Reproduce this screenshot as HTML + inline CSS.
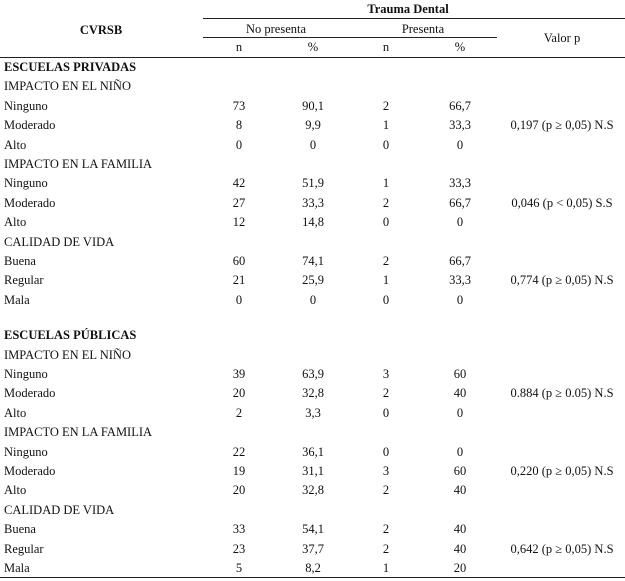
<!DOCTYPE html>
<html><head><meta charset="utf-8">
<style>
html,body{margin:0;padding:0;background:#fff;}
body{width:625px;height:581px;position:relative;overflow:hidden;font-family:"Liberation Serif",serif;font-size:12.5px;color:#111;}
.t{position:absolute;white-space:nowrap;line-height:14px;}
.c{transform:translateX(-50%);}
.b{font-weight:bold;}
.ln{position:absolute;height:1px;background:#222;}
</style></head><body>
<div class="t c b" style="left:408px;top:2px">Trauma Dental</div>
<div class="ln" style="left:203px;width:422px;top:18px"></div>
<div class="t c b" style="left:101px;top:23px">CVRSB</div>
<div class="t c" style="left:276px;top:22px">No presenta</div>
<div class="t c" style="left:423px;top:22px">Presenta</div>
<div class="ln" style="left:203px;width:294px;top:37px"></div>
<div class="t c" style="left:562px;top:31px">Valor p</div>
<div class="t c" style="left:239px;top:40px">n</div>
<div class="t c" style="left:313px;top:40px">%</div>
<div class="t c" style="left:386px;top:40px">n</div>
<div class="t c" style="left:460px;top:40px">%</div>
<div class="ln" style="left:0;width:625px;top:57px"></div>
<div class="ln" style="left:0;width:625px;top:577px"></div>
<script>
const rows = [
 ["b","ESCUELAS PRIVADAS"],["s","IMPACTO EN EL NIÑO"],
 ["d","Ninguno","73","90,1","2","66,7",""],
 ["d","Moderado","8","9,9","1","33,3","0,197 (p ≥ 0,05) N.S"],
 ["d","Alto","0","0","0","0",""],
 ["s","IMPACTO EN LA FAMILIA"],
 ["d","Ninguno","42","51,9","1","33,3",""],
 ["d","Moderado","27","33,3","2","66,7","0,046 (p < 0,05) S.S"],
 ["d","Alto","12","14,8","0","0",""],
 ["s","CALIDAD DE VIDA"],
 ["d","Buena","60","74,1","2","66,7",""],
 ["d","Regular","21","25,9","1","33,3","0,774 (p ≥ 0,05) N.S"],
 ["d","Mala","0","0","0","0",""],
 ["gap"],
 ["b","ESCUELAS PÚBLICAS"],["s","IMPACTO EN EL NIÑO"],
 ["d","Ninguno","39","63,9","3","60",""],
 ["d","Moderado","20","32,8","2","40","0.884 (p ≥ 0.05) N.S"],
 ["d","Alto","2","3,3","0","0",""],
 ["s","IMPACTO EN LA FAMILIA"],
 ["d","Ninguno","22","36,1","0","0",""],
 ["d","Moderado","19","31,1","3","60","0,220 (p ≥ 0,05) N.S"],
 ["d","Alto","20","32,8","2","40",""],
 ["s","CALIDAD DE VIDA"],
 ["d","Buena","33","54,1","2","40",""],
 ["d","Regular","23","37,7","2","40","0,642 (p ≥ 0,05) N.S"],
 ["d","Mala","5","8,2","1","20",""]
];
const colX = [239,313,386,460,562];
let y = 60;
function add(txt, x, top, cls, name){
  const d = document.createElement('div');
  d.className = 't ' + cls;
  d.style.left = x + 'px'; d.style.top = top + 'px';
  d.textContent = txt;
  
  
  document.body.appendChild(d);
}
rows.forEach((r,i)=>{
  if(r[0]==="gap"){ y += 16; return; }
  if(r[0]==="b") add(r[1],4,y,'b','section-title');
  else if(r[0]==="s") add(r[1],4,y,'','subsection-title');
  else {
    add(r[1],4,y,'','row-label');
    for(let k=0;k<5;k++){ if(r[k+2]) add(r[k+2],colX[k],y,'c','cell-value'); }
  }
  y += 19.4;
});
</script>
</body></html>
